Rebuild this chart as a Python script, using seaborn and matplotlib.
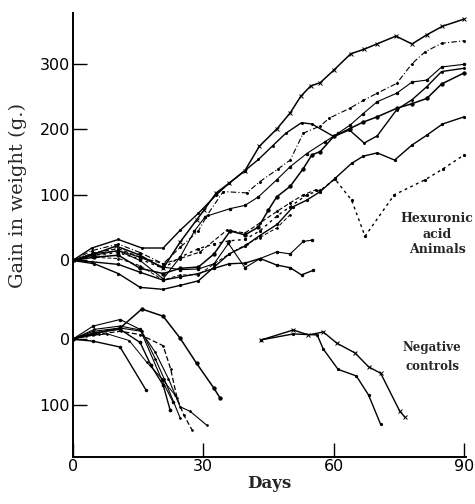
import numpy as np
import pandas as pd
import seaborn as sns
import matplotlib.pyplot as plt

# Hexuronic acid animals: gain in weight (g) against days
hx1_days = [0, 5, 10, 15.5, 20.8, 24.7, 28.5, 30.2, 33, 36, 39.6, 42.9, 47, 50, 52.4, 54.7, 56.9, 60, 63.9, 67, 69.9, 74.3, 78, 81.4, 85, 90]
hx1_gain = [0, 10, 22, 8, -12, 28, 62, 77, 103, 118, 137, 174, 201, 225, 250, 266, 271, 290, 315, 322, 330, 342, 330, 344, 357, 368]

hx2_days = [0, 4.4, 10.5, 15.5, 20.8, 24.7, 28.9, 31, 34.6, 40, 43, 47.3, 50, 53, 56.9, 59, 63.7, 66.8, 70, 74.5, 78, 81, 84.8, 90]
hx2_gain = [0, 15, 25, 12, -5, 20, 45, 70, 105, 103, 120, 140, 153, 194, 205, 217, 232, 244, 255, 270, 300, 318, 331, 335]

hx3_days = [0, 4.4, 10.5, 15.9, 20.8, 24.7, 28.9, 33, 36, 39.6, 42.7, 46, 49, 52.6, 55, 60, 63.6, 67, 70, 74.5, 78, 81.4, 84.8, 90]
hx3_gain = [0, 19, 32, 19, 19, 46, 72, 100, 118, 137, 154, 175, 194, 210, 208, 189, 199, 179, 190, 230, 245, 265, 288, 293]

hx4_days = [0, 5, 10.5, 15.5, 20.8, 24.7, 28, 30.5, 36.2, 39.6, 42.7, 46.9, 50, 53.8, 58, 61, 63.7, 66.8, 70, 74.5, 78, 81.4, 84.8, 90]
hx4_gain = [0, 8, 15, 0, -28, 5, 45, 67, 79, 84, 97, 123, 143, 163, 181, 194, 206, 224, 242, 255, 272, 275, 295, 299]

hx5_days = [0, 5, 10.5, 15.5, 20.8, 24.7, 28.9, 32.5, 36.2, 39.6, 42.7, 45, 46.9, 50, 53, 55, 56.9, 60, 63.7, 66.8, 70, 74.5, 78, 81.4, 84.8, 90]
hx5_gain = [0, 5, 8, -12, -20, -12, -10, 10, 45, 39, 51, 77, 97, 113, 140, 161, 166, 189, 201, 211, 219, 232, 239, 247, 269, 286]

hx6_days = [0, 5, 10.5, 15.5, 20.8, 24.7, 28.9, 32.5, 36, 39.6, 43, 47, 50.7, 53.8, 56.9, 60.3, 64.1, 66.8, 70, 74, 78, 81.4, 85, 90]
hx6_gain = [0, -5, -20, -41, -44, -38, -31, -10, 10, 22, 38, 55, 82, 92, 105, 125, 148, 159, 164, 153, 176, 191, 208, 219]

hx7_days = [0, 5, 10.5, 15.5, 20.8, 24.7, 28.9, 32.5, 36, 39.6, 43, 47, 50, 53.8, 56.9, 60.3, 64.1, 67.2, 73.9, 81, 85.2, 90]
hx7_gain = [0, 8, 12, 2, -12, 5, 18, 25, 30, 32, 45, 68, 82, 100, 107, 124, 92, 37, 100, 123, 140, 161]

hx8_days = [0, 5, 10.5, 15.5, 20.8, 24.7, 29.3, 35.4, 39.6, 43, 47, 50, 53, 56]
hx8_gain = [0, 12, 18, 5, -5, 3, 13, 46, 42, 57, 75, 88, 100, 108]

hx9_days = [0, 4.4, 10.5, 15.5, 20.8, 24.7, 28.9, 32.5, 35.8, 39.6, 43.1, 46.9, 50, 53, 55]
hx9_gain = [0, 10, 15, 5, -10, -14, -13, -5, 26, -11, 3, 13, 10, 29, 31]

hx10_days = [0, 4.4, 10.5, 15.5, 20.8, 24.7, 28.9, 32.5, 36, 39.6, 43.1, 46.9, 50, 52.6, 55.3]
hx10_gain = [0, -2, -6, -18, -30, -25, -20, -12, -5, -4, 3, -7, -11, -22, -15]

hx11_days = [0, 4.4, 10.5, 15.5, 20.8, 24.7, 28.9, 32.5, 36, 40, 43, 47, 50]
hx11_gain = [0, 5, 3, -8, -30, -22, -22, -5, 10, 25, 35, 50, 70]

# Negative controls: gain in weight (g), drawn in the lower block
nc1_days = [0, 4.7, 10.9, 15.9, 20.8, 24.7, 28.5, 32.5, 33.9]
nc1_gain = [0, 8, 17, 46, 35, 1.5, -37, -75, -90]
nc2_days = [0, 4.7, 10.9, 16.9]
nc2_gain = [0, -3, -12, -78]
nc3_days = [0, 6, 11, 15.5, 20.8, 22.5, 24, 25.5, 27.4]
nc3_gain = [0, 8, 12, 7, -10, -45, -90, -115, -138]
nc4_days = [0, 5, 10.9, 15.5, 19, 22, 24.7, 27, 30.8]
nc4_gain = [0, 15, 20, 14, -20, -60, -103, -110, -131]
nc5_days = [0, 5, 10.9, 15.5, 18, 20.8, 22.4]
nc5_gain = [0, 10, 15, -5, -40, -70, -108]
nc6_days = [0, 4.7, 10.9, 15.9, 19, 21, 24.7]
nc6_gain = [0, 12, 17, 12, -30, -60, -120]
nc7_days = [0, 4.7, 10.9, 15.5, 20.5, 23]
nc7_gain = [0, 20, 30, 15, -62, -95]
nc8_days = [0, 3, 8, 13, 17, 20.5, 23.5]
nc8_gain = [0, 5, 8, -2, -35, -60, -85]
nc9_days = [43.4, 50.7, 54.2, 57.6, 60.7, 64.9, 68, 70.8, 75.2, 76.4]
nc9_gain = [-1, 14, 6.5, 11, -6, -21, -42, -52, -110, -119]
nc10_days = [43.4, 50.7, 56.2, 57.6, 61, 65.2, 68, 70.8]
nc10_gain = [-1, 8, 6.5, -15, -46, -56, -85, -130]

OFFSET = -120  # zero of the negative-control block on the shared axis

y_ticks = [300, 200, 100, 0, OFFSET, OFFSET - 100]
y_labels = ['300', '200', '100', '0', '0', '100']
x_ticks = [0, 30, 60, 90]

sns.set_style('ticks')
plt.rcParams['font.family'] = ['DejaVu Sans']

fig = plt.figure(figsize=(4.75, 5.04), dpi=100)
ax = fig.add_axes([0.153, 0.0927, 0.828, 0.882])


def draw(days, gain, shift=0, ls='-', lw=0.9, marker='o', ms=1.8):
    df = pd.DataFrame({'day': days, 'gain': np.array(gain, dtype=float) + shift})
    sns.lineplot(data=df, x='day', y='gain', ax=ax, color='black', linestyle=ls,
                 linewidth=lw, marker=marker, markersize=ms, markeredgewidth=0.7,
                 markeredgecolor='black', estimator=None, sort=False)


dash = (0, (4, 2))
dashdot = (0, (5, 2, 1, 2))
dot = (0, (2, 2.5))

draw(hx1_days, hx1_gain, lw=1.1, marker='x', ms=3.2)
draw(hx2_days, hx2_gain, ls=dashdot, lw=0.8, ms=1.4)
draw(hx3_days, hx3_gain, lw=1.0, ms=1.4)
draw(hx4_days, hx4_gain, lw=0.8)
draw(hx5_days, hx5_gain, lw=1.1, ms=2.4)
draw(hx6_days, hx6_gain, lw=1.0, ms=1.6)
draw(hx7_days, hx7_gain, ls=dot, lw=1.0, ms=1.6)
draw(hx8_days, hx8_gain, ls=dash, lw=0.8, ms=1.4)
draw(hx9_days, hx9_gain, lw=0.8)
draw(hx10_days, hx10_gain, lw=1.0)
draw(hx11_days, hx11_gain, ls=dash, lw=0.7, ms=1.2)

draw(nc1_days, nc1_gain, OFFSET, lw=1.1, ms=2.4)
draw(nc2_days, nc2_gain, OFFSET, lw=1.0)
draw(nc3_days, nc3_gain, OFFSET, ls=dash, lw=0.9, ms=1.2)
draw(nc4_days, nc4_gain, OFFSET, lw=0.8, ms=1.2)
draw(nc5_days, nc5_gain, OFFSET, lw=1.0, ms=2)
draw(nc6_days, nc6_gain, OFFSET, lw=0.8, ms=1.2)
draw(nc7_days, nc7_gain, OFFSET, lw=0.8)
draw(nc8_days, nc8_gain, OFFSET, lw=0.7, ms=1.2)
draw(nc9_days, nc9_gain, OFFSET, lw=1.0, marker='x', ms=3)
draw(nc10_days, nc10_gain, OFFSET, lw=1.0, ms=1.6)

ax.set_xlim(0, 90.4)
ax.set_ylim(-300, 377.6)
ax.set_xticks(x_ticks)
ax.set_xticklabels([str(t) for t in x_ticks])
ax.set_yticks(y_ticks)
ax.set_yticklabels(y_labels)
ax.tick_params(axis='both', direction='in', length=10, width=1.0, labelsize=11.5, colors='black')
ax.tick_params(axis='x', pad=1)
ax.tick_params(axis='y', pad=2)
ax.set_xlabel('')
ax.set_ylabel('')
for side in ['top', 'right']:
    ax.spines[side].set_visible(False)
for side in ['left', 'bottom']:
    ax.spines[side].set_linewidth(1.4)
    ax.spines[side].set_color('black')

fig.text(269 / 475, 1 - 483 / 504, 'Days', family='DejaVu Serif', fontweight='bold',
         fontsize=12, ha='center', va='center')
fig.text(18 / 475, 1 - 195 / 504, 'Gain in weight (g.)', family='DejaVu Serif',
         fontsize=14, rotation=90, ha='center', va='center')
fig.text(437 / 475, 1 - 234 / 504, 'Hexuronic\nacid\nAnimals', family='DejaVu Serif',
         fontweight='bold', fontsize=9, ha='center', va='center', linespacing=1.25)
fig.text(432 / 475, 1 - 357 / 504, 'Negative\ncontrols', family='DejaVu Serif',
         fontweight='bold', fontsize=8.5, ha='center', va='center', linespacing=1.5)

fig.savefig('out.png', dpi=100, facecolor='white')
